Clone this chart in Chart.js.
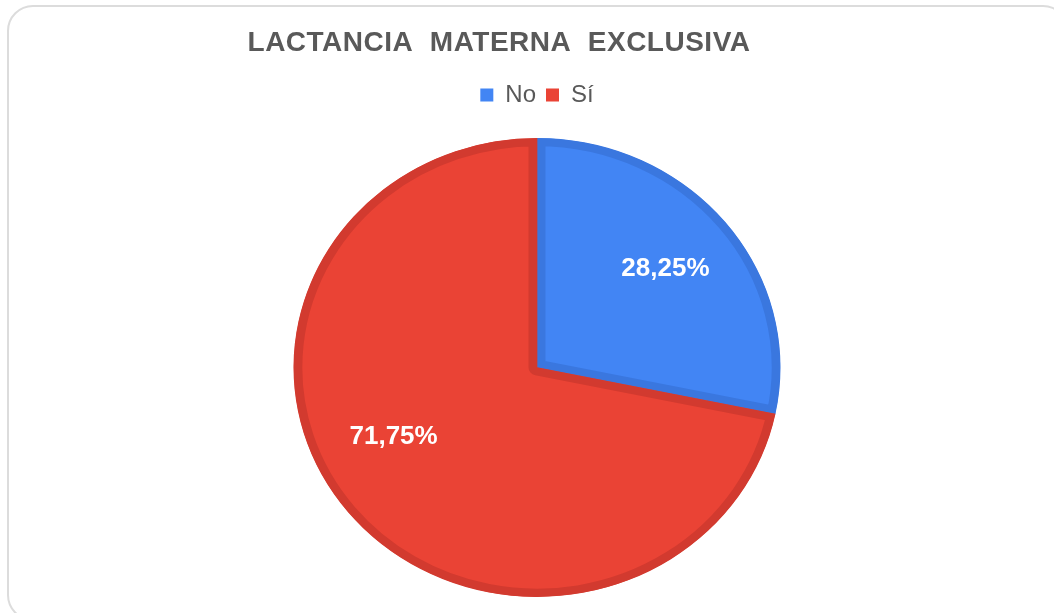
<!DOCTYPE html>
<html><head><meta charset="utf-8">
<script src="https://cdn.jsdelivr.net/npm/chart.js@4.4.1/dist/chart.umd.min.js"></script>
<style>
html,body{margin:0;padding:0;background:#fff;width:1054px;height:613px;overflow:hidden}
#frame{position:absolute;left:7px;top:5px;width:1062px;height:616px;border:2px solid #dcdcdc;border-radius:26px;box-sizing:border-box}
#wrap{position:absolute;left:0;top:0;width:1054px;height:613px}
</style></head><body>
<div id="frame"></div>
<div id="wrap"><canvas id="c" width="1054" height="613"></canvas></div>
<script>
const categories = ['No', 'Sí'];
const values = [28.25, 71.75];
const fillColors = ['#4285f4', '#ea4335'];
const borderColors = ['#3a77df', '#d23a2f'];
const titleText = 'LACTANCIA  MATERNA  EXCLUSIVA';

function fmt(v){ return v.toFixed(2).replace('.', ',') + '%'; }

const ellipsePlugin = {
  id: 'ellipse',
  afterInit(chart){
    const t = chart.titleBlock;
    const td = t.draw;
    t.draw = function(a){
      const ctx = this.ctx; ctx.save();
      ctx.letterSpacing = '0.5px';
      ctx.translate(-38, 1);
      td.call(this, a);
      ctx.restore();
    };
    const lg = chart.legend;
    const lf = lg.fit;
    lg.fit = function(){ lf.call(this); this.height += 35.4; };
    const ld = lg.draw;
    lg.draw = function(a){
      const ctx = this.ctx; ctx.save();
      ctx.translate(0, 14.4);
      ld.call(this, a);
      ctx.restore();
    };
  },
  beforeDatasetsDraw(chart, args, opts){
    const m = chart.getDatasetMeta(0).data[0];
    const ctx = chart.ctx;
    ctx.save();
    ctx.translate(m.x, m.y);
    ctx.scale(opts.sx, 1);
    ctx.translate(-m.x, -m.y);
  },
  afterDatasetsDraw(chart, args, opts){
    const ctx = chart.ctx;
    ctx.restore();
    const meta = chart.getDatasetMeta(0);
    ctx.save();
    ctx.font = 'bold 26px "Liberation Sans", Arial, sans-serif';
    ctx.fillStyle = '#ffffff';
    ctx.textAlign = 'center';
    ctx.textBaseline = 'middle';
    meta.data.forEach((arc, i) => {
      const p = arc.getProps(['x','y','startAngle','endAngle','outerRadius'], true);
      const mid = (p.startAngle + p.endAngle) / 2;
      const r = p.outerRadius * opts.f;
      const x = p.x + Math.cos(mid) * r * opts.sx + opts.nudge[i][0];
      const y = p.y + Math.sin(mid) * r + opts.nudge[i][1];
      ctx.fillText(fmt(chart.data.datasets[0].data[i]), x, y);
    });
    ctx.restore();
  }
};

new Chart(document.getElementById('c'), {
  type: 'pie',
  data: {
    labels: categories,
    datasets: [{
      data: values,
      backgroundColor: fillColors,
      borderColor: borderColors,
      borderWidth: 8,
      borderAlign: 'inner'
    }]
  },
  options: {
    responsive: false,
    animation: false,
    events: [],
    layout: { padding: { top: 25, bottom: 16, left: 20, right: 0 } },
    plugins: {
      tooltip: { enabled: false },
      title: {
        display: true,
        text: titleText,
        color: '#595959',
        font: { family: '"Liberation Sans", Arial, sans-serif', size: 28, weight: 'bold', lineHeight: 1.2 },
        padding: { top: 0, bottom: 0 }
      },
      legend: {
        display: true,
        position: 'top',
        labels: {
          color: '#595959',
          font: { family: '"Liberation Sans", Arial, sans-serif', size: 24 },
          boxWidth: 13,
          boxHeight: 13,
          padding: 10,
          generateLabels(chart){
            return Chart.overrides.pie.plugins.legend.labels.generateLabels(chart)
              .map(l => Object.assign(l, { lineWidth: 0, strokeStyle: l.fillStyle }));
          }
        }
      },
      ellipse: { sx: 1.061, f: 0.68, nudge: [[0, 0], [-15, -29]] }
    }
  },
  plugins: [ellipsePlugin]
});
</script>
</body></html>
